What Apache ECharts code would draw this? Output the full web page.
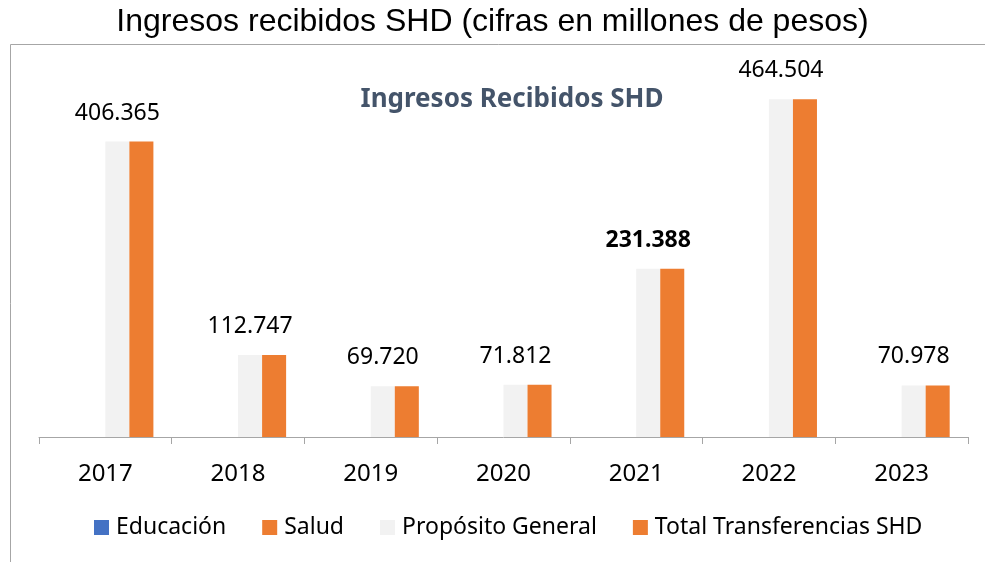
<!DOCTYPE html>
<html>
<head>
<meta charset="utf-8">
<script src="https://cdn.jsdelivr.net/npm/echarts@6/dist/echarts.min.js"></script>
<style>
  html, body { margin: 0; padding: 0; background: #fff; }
  #chart { width: 985px; height: 562px; }
</style>
</head>
<body>
<div id="chart"></div>
<script>
// datos (millones de pesos)
const years = ['2017', '2018', '2019', '2020', '2021', '2022', '2023'];
const educacion = [0, 0, 0, 0, 0, 0, 0];
const salud = [0, 0, 0, 0, 0, 0, 0];
const propositoGeneral = [406.365, 112.747, 69.720, 71.812, 231.388, 464.504, 70.978];
const totalSHD = [406.365, 112.747, 69.720, 71.812, 231.388, 464.504, 70.978];
const boldYears = ['2021'];

const font = '"Noto Sans", sans-serif';
const chart = echarts.init(document.getElementById('chart'));

// etiquetas sobre la barra gris, la de 2021 en negrita
const pgData = propositoGeneral.map((v, i) => ({
  value: v,
  label: { fontWeight: boldYears.includes(years[i]) ? 'bold' : 'normal' }
}));

chart.setOption({
  animation: false,
  backgroundColor: '#fff',
  title: [{
    text: 'Ingresos recibidos SHD (cifras en millones de pesos)',
    left: 'center',
    top: 1,
    textStyle: { fontFamily: '"Liberation Sans", Arial', fontSize: 32, fontWeight: 'normal', color: '#000' }
  }, {
    text: 'Ingresos Recibidos SHD',
    left: 507,
    textAlign: 'center',
    top: 82,
    textStyle: { fontFamily: font, fontSize: 26, fontWeight: 'bold', color: '#44546A' }
  }],
  graphic: [{
    type: 'rect',
    shape: { x: 10.5, y: 44.5, width: 1000, height: 600 },
    style: { fill: 'none', stroke: '#a6a6a6', lineWidth: 1 },
    silent: true,
    z: -1
  }],
  legend: {
    bottom: 18,
    left: 89,
    icon: 'rect',
    itemWidth: 15,
    itemHeight: 15,
    itemGap: 36,
    textStyle: { fontFamily: font, fontSize: 23, color: '#000', padding: [0, 0, 0, 2] },
    data: ['Educación', 'Salud', 'Propósito General', 'Total Transferencias SHD']
  },
  grid: { left: 39, right: 17, top: 73.5, bottom: 125 },
  xAxis: {
    type: 'category',
    data: years,
    axisLine: { lineStyle: { color: '#a6a6a6', width: 1 } },
    axisTick: { show: true, length: 7, lineStyle: { color: '#a6a6a6' } },
    axisLabel: { fontFamily: font, fontSize: 24, color: '#000', margin: 25 }
  },
  yAxis: {
    type: 'value',
    min: 0,
    max: 500,
    show: false,
    splitLine: { show: false }
  },
  series: [{
    name: 'Educación',
    type: 'bar',
    data: educacion,
    barGap: '0%',
    barCategoryGap: '27.6%',
    itemStyle: { color: '#4472C4' }
  }, {
    name: 'Salud',
    type: 'bar',
    data: salud,
    itemStyle: { color: '#ED7D31' }
  }, {
    name: 'Propósito General',
    type: 'bar',
    data: pgData,
    itemStyle: { color: '#F2F2F2' },
    label: {
      show: true,
      position: 'top',
      distance: 17,
      fontFamily: font,
      fontSize: 23,
      color: '#000',
      formatter: p => p.value.toFixed(3)
    }
  }, {
    name: 'Total Transferencias SHD',
    type: 'bar',
    data: totalSHD,
    itemStyle: { color: '#ED7D31' }
  }]
});
</script>
</body>
</html>
